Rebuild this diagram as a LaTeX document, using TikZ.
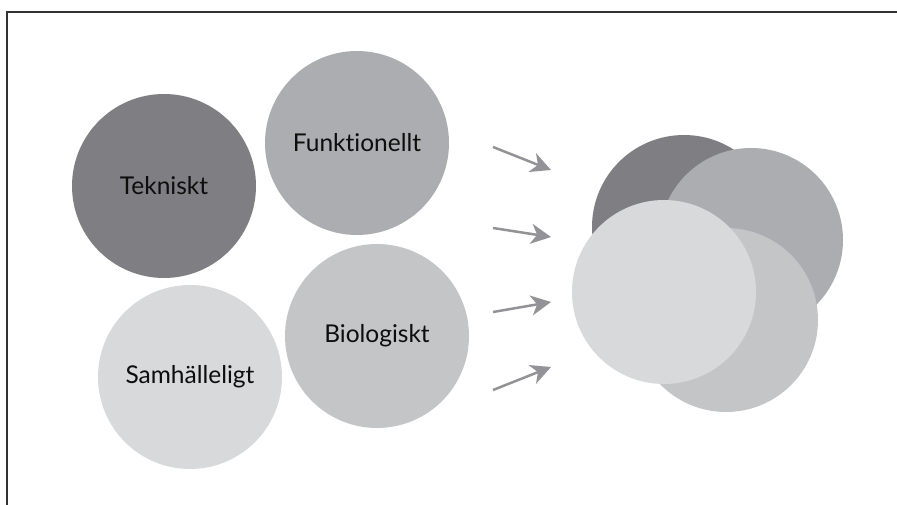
\documentclass[tikz,border=0pt]{standalone}
\usepackage{fontspec}
\setmainfont[Ligatures=NoCommon]{Lato}
\usepackage{tikz}
\usetikzlibrary{arrows.meta}
\definecolor{tekgray}{RGB}{127,126,131}
\definecolor{funkgray}{RGB}{172,173,176}
\definecolor{biogray}{RGB}{196,197,199}
\definecolor{samgray}{RGB}{216,217,219}
\definecolor{pilgray}{RGB}{147,147,151}

\begin{document}
\begin{tikzpicture}[x=1pt,y=-1pt,
                    blob/.style={circle,inner sep=0pt,minimum size=184pt,
                                 font=\fontsize{24.5}{29}\selectfont,text=black!95},
                    pil/.style={pilgray,line width=2.5pt,
                                -{Stealth[length=20pt,width=20pt,inset=6pt]}}]
                        \useasboundingbox (0,0) rectangle (897,505);
                        \draw [line width=1.5pt,black!80] (7,505) -- (7,12) -- (897,12);
                        % four aspects
                        \node [blob,fill=tekgray] (tek) at (164,186) {Tekniskt};
                        \node [blob,fill=funkgray] (funk) at (357,143) {Funktionellt};
                        \node [blob,fill=samgray] (sam) at (190,377) {Samhälleligt};
                        \node [blob,fill=biogray] (bio) at (377,336) {Biologiskt};
                        % combined
                        \node [blob,fill=tekgray] (mixtek) at (684,227) {};
                        \node [blob,fill=funkgray] (mixfunk) at (751,240) {};
                        \node [blob,fill=biogray] (mixbio) at (726,320) {};
                        \node [blob,fill=samgray] (mixsam) at (664,292) {};
                        \foreach \n/\ya/\yb in {1/147/170,2/228/237,3/312/302,4/390/367}
                        {
                            \coordinate (from\n) at (493,\ya);
                            \coordinate (to\n) at (551,\yb);
                            \draw [pil] (from\n) -- (to\n);
                        }
                    \end{tikzpicture}
\end{document}
